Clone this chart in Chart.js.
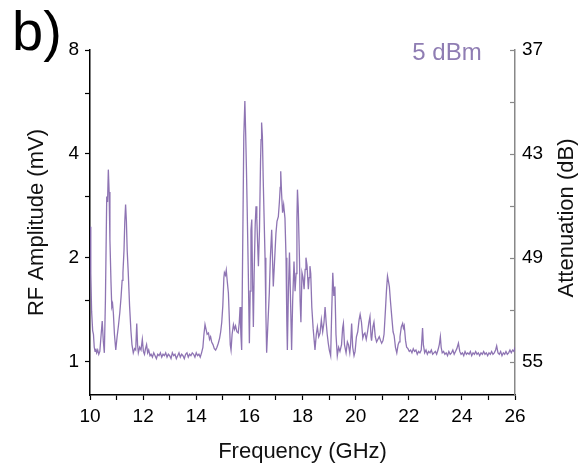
<!DOCTYPE html>
<html>
<head>
<meta charset="utf-8">
<script src="https://cdn.jsdelivr.net/npm/chart.js@4"></script>
<style>
  html, body { margin: 0; padding: 0; background: #fff; }
  canvas { display: block; }
</style>
</head>
<body>
<canvas id="rfChart" width="587" height="473"></canvas>
<script>
// Frequency (GHz) and RF amplitude (mV), ten points per line
const freqGHz = [
  10.00, 10.03, 10.06, 10.10, 10.13, 10.16, 10.19, 10.22, 10.25, 10.29,
  10.33, 10.37, 10.42, 10.46, 10.50, 10.54, 10.58, 10.63, 10.66, 10.69,
  10.72, 10.75, 10.79, 10.82, 10.85, 10.88, 10.92, 10.97, 11.02, 11.07,
  11.12, 11.17, 11.21, 11.24, 11.28, 11.31, 11.34, 11.37, 11.40, 11.44,
  11.49, 11.54, 11.58, 11.63, 11.68, 11.72, 11.76, 11.79, 11.82, 11.87,
  11.92, 11.97, 12.01, 12.05, 12.09, 12.13, 12.17, 12.21, 12.26, 12.30,
  12.35, 12.40, 12.45, 12.50, 12.55, 12.60, 12.65, 12.70, 12.75, 12.80,
  12.85, 12.90, 12.95, 13.00, 13.05, 13.10, 13.15, 13.20, 13.25, 13.30,
  13.35, 13.40, 13.45, 13.50, 13.55, 13.60, 13.65, 13.70, 13.75, 13.80,
  13.85, 13.90, 13.95, 14.00, 14.05, 14.10, 14.15, 14.20, 14.25, 14.29,
  14.33, 14.37, 14.41, 14.46, 14.50, 14.54, 14.58, 14.63, 14.68, 14.73,
  14.78, 14.83, 14.88, 14.92, 14.96, 15.00, 15.04, 15.06, 15.10, 15.13,
  15.17, 15.21, 15.25, 15.28, 15.31, 15.35, 15.40, 15.44, 15.48, 15.53,
  15.58, 15.62, 15.65, 15.68, 15.71, 15.75, 15.79, 15.83, 15.86, 15.89,
  15.92, 15.96, 16.00, 16.03, 16.06, 16.09, 16.12, 16.15, 16.18, 16.22,
  16.25, 16.28, 16.31, 16.34, 16.38, 16.42, 16.44, 16.46, 16.49, 16.52,
  16.56, 16.59, 16.62, 16.65, 16.70, 16.75, 16.79, 16.84, 16.87, 16.90,
  16.94, 17.00, 17.04, 17.09, 17.13, 17.16, 17.18, 17.21, 17.25, 17.29,
  17.34, 17.38, 17.41, 17.43, 17.47, 17.51, 17.55, 17.59, 17.63, 17.68,
  17.72, 17.76, 17.79, 17.81, 17.84, 17.89, 17.91, 17.94, 17.98, 18.02,
  18.06, 18.10, 18.13, 18.17, 18.22, 18.25, 18.28, 18.31, 18.35, 18.40,
  18.44, 18.47, 18.52, 18.56, 18.61, 18.66, 18.71, 18.76, 18.81, 18.85,
  18.89, 18.93, 18.97, 19.01, 19.06, 19.10, 19.14, 19.18, 19.22, 19.26,
  19.31, 19.36, 19.41, 19.47, 19.51, 19.54, 19.58, 19.64, 19.69, 19.73,
  19.78, 19.81, 19.85, 19.89, 19.94, 19.98, 20.03, 20.08, 20.13, 20.17,
  20.22, 20.27, 20.31, 20.35, 20.40, 20.45, 20.50, 20.54, 20.58, 20.60,
  20.65, 20.69, 20.74, 20.79, 20.84, 20.89, 20.94, 20.98, 21.03, 21.07,
  21.12, 21.16, 21.20, 21.23, 21.27, 21.31, 21.36, 21.41, 21.45, 21.50,
  21.55, 21.60, 21.64, 21.67, 21.72, 21.77, 21.80, 21.83, 21.88, 21.92,
  21.97, 22.02, 22.07, 22.12, 22.17, 22.22, 22.27, 22.32, 22.37, 22.42,
  22.47, 22.52, 22.55, 22.60, 22.65, 22.70, 22.75, 22.80, 22.85, 22.90,
  22.95, 23.00, 23.05, 23.10, 23.15, 23.19, 23.22, 23.26, 23.31, 23.36,
  23.41, 23.46, 23.51, 23.56, 23.61, 23.66, 23.71, 23.76, 23.81, 23.87,
  23.92, 23.97, 24.02, 24.07, 24.12, 24.17, 24.22, 24.27, 24.32, 24.37,
  24.42, 24.47, 24.52, 24.57, 24.62, 24.67, 24.72, 24.77, 24.82, 24.87,
  24.92, 24.97, 25.02, 25.07, 25.12, 25.17, 25.22, 25.27, 25.31, 25.36,
  25.41, 25.46, 25.51, 25.56, 25.61, 25.66, 25.71, 25.76, 25.81, 25.86,
  25.91, 25.96, 26.00
];
const ampMV = [
  2.46, 1.80, 1.40, 1.23, 1.20, 1.10, 1.07, 1.09, 1.06, 1.08,
  1.05, 1.07, 1.20, 1.31, 1.15, 1.06, 1.50, 3.01, 2.90, 3.60,
  3.10, 2.26, 1.70, 1.44, 1.47, 1.38, 1.20, 1.08, 1.18, 1.27,
  1.38, 1.54, 1.72, 1.81, 2.10, 2.55, 2.85, 2.55, 2.10, 1.81,
  1.45, 1.23, 1.12, 1.06, 1.09, 1.08, 1.29, 1.12, 1.06, 1.10,
  1.08, 1.16, 1.07, 1.05, 1.09, 1.12, 1.06, 1.08, 1.04, 1.05,
  1.03, 1.06, 1.04, 1.02, 1.05, 1.04, 1.06, 1.03, 1.05, 1.04,
  1.06, 1.03, 1.05, 1.04, 1.02, 1.06, 1.04, 1.05, 1.02, 1.04,
  1.06, 1.03, 1.05, 1.04, 1.02, 1.05, 1.06, 1.03, 1.05, 1.04,
  1.06, 1.05, 1.03, 1.06, 1.04, 1.05, 1.03, 1.06, 1.10, 1.20,
  1.28, 1.24, 1.20, 1.21, 1.16, 1.18, 1.14, 1.12, 1.09, 1.08,
  1.10, 1.13, 1.17, 1.22, 1.30, 1.45, 1.75, 1.81, 1.78, 1.84,
  1.70, 1.58, 1.30, 1.12, 1.08, 1.20, 1.28, 1.24, 1.27, 1.22,
  1.21, 1.30, 1.44, 1.20, 1.08, 2.20, 4.50, 5.69, 4.60, 3.60,
  2.70, 1.80, 1.13, 1.60, 2.40, 2.58, 1.70, 1.26, 1.80, 2.50,
  2.82, 2.60, 2.20, 1.89, 2.40, 3.80, 4.40, 4.93, 4.50, 3.40,
  2.50, 2.00, 1.40, 1.06, 1.30, 1.58, 2.00, 2.41, 2.00, 1.65,
  1.90, 2.35, 2.55, 2.63, 2.90, 3.20, 3.56, 3.10, 2.70, 2.85,
  2.60, 2.00, 1.30, 1.08, 1.60, 2.07, 1.50, 1.08, 1.50, 1.95,
  1.60, 1.80, 2.60, 3.15, 2.80, 1.91, 1.50, 1.30, 1.81, 1.75,
  1.62, 1.85, 2.00, 1.90, 1.62, 1.75, 1.89, 1.80, 1.44, 1.25,
  1.15, 1.08, 1.20, 1.26, 1.18, 1.21, 1.32, 1.22, 1.30, 1.44,
  1.30, 1.20, 1.13, 1.08, 1.04, 1.40, 1.81, 1.55, 1.65, 1.20,
  1.04, 1.10, 1.07, 1.12, 1.25, 1.29, 1.12, 1.06, 1.14, 1.12,
  1.06, 1.12, 1.29, 1.10, 1.04, 1.07, 1.18, 1.22, 1.32, 1.37,
  1.30, 1.17, 1.20, 1.21, 1.16, 1.22, 1.30, 1.35, 1.18, 1.15,
  1.26, 1.30, 1.18, 1.14, 1.16, 1.18, 1.15, 1.13, 1.15, 1.20,
  1.40, 1.60, 1.77, 1.72, 1.65, 1.50, 1.35, 1.22, 1.19, 1.10,
  1.06, 1.12, 1.14, 1.18, 1.26, 1.29, 1.25, 1.27, 1.15, 1.10,
  1.09, 1.07, 1.08, 1.06, 1.09, 1.07, 1.08, 1.05, 1.07, 1.06,
  1.08, 1.25, 1.12, 1.06, 1.08, 1.05, 1.07, 1.06, 1.08, 1.05,
  1.06, 1.07, 1.05, 1.08, 1.12, 1.18, 1.10, 1.06, 1.07, 1.05,
  1.06, 1.04, 1.07, 1.05, 1.06, 1.08, 1.05, 1.07, 1.09, 1.13,
  1.07, 1.05, 1.06, 1.04, 1.07, 1.05, 1.06, 1.05, 1.07, 1.04,
  1.06, 1.05, 1.07, 1.05, 1.06, 1.04, 1.06, 1.05, 1.07, 1.05,
  1.06, 1.04, 1.06, 1.05, 1.07, 1.05, 1.06, 1.08, 1.11, 1.06,
  1.05, 1.07, 1.04, 1.06, 1.05, 1.07, 1.05, 1.06, 1.08, 1.06,
  1.08, 1.07, 1.10
];

// axis ticks
const ampTicks = [1, 1.5, 2, 3, 4, 6, 8];
const ampLabels = [1, 2, 4, 8];
const attenTicks = [37, 40, 43, 46, 49, 52, 55];
const attenLabels = [37, 43, 49, 55];
const freqLabels = [10, 12, 14, 16, 18, 20, 22, 24, 26];

const FONT = "'Liberation Sans', Arial, sans-serif";
const LINE_COLOR = 'rgba(132, 104, 172, 0.92)';

const points = freqGHz.map((f, i) => ({ x: f, y: ampMV[i] }));

// extra drawing: panel letter, power label, inward right ticks, right title
const decorations = {
  id: 'decorations',
  afterDraw(chart) {
    const ctx = chart.ctx;
    const right = chart.scales.yAtt;
    const area = chart.chartArea;
    ctx.save();

    ctx.strokeStyle = '#888';
    ctx.lineWidth = 1.2;
    attenTicks.forEach(v => {
      const y = Math.round(right.getPixelForValue(v)) + 0.5;
      ctx.beginPath();
      ctx.moveTo(area.right - 5, y);
      ctx.lineTo(area.right, y);
      ctx.stroke();
    });

    ctx.fillStyle = '#000';
    ctx.font = '56px ' + FONT;
    ctx.textAlign = 'left';
    ctx.textBaseline = 'alphabetic';
    ctx.fillText('b)', 12, 50);

    ctx.fillStyle = '#8f7db3';
    ctx.font = '24px ' + FONT;
    ctx.textAlign = 'center';
    ctx.textBaseline = 'middle';
    ctx.fillText('5 dBm', 447, 53);

    ctx.fillStyle = '#111';
    ctx.font = '22px ' + FONT;
    ctx.translate(567, 218);
    ctx.rotate(-Math.PI / 2);
    ctx.fillText('Attenuation (dB)', 0, 0);

    ctx.restore();
  }
};

new Chart(document.getElementById('rfChart'), {
  type: 'line',
  data: {
    datasets: [{
      data: points,
      borderColor: LINE_COLOR,
      borderWidth: 1.3,
      pointRadius: 0,
      tension: 0,
      fill: false,
      yAxisID: 'y'
    }]
  },
  options: {
    responsive: false,
    animation: false,
    layout: { padding: { top: 50, left: 0, right: 0, bottom: 0 } },
    plugins: {
      legend: { display: false },
      tooltip: { enabled: false }
    },
    scales: {
      x: {
        type: 'linear',
        min: 10,
        max: 26,
        afterFit: s => { s.height = 78; },
        afterBuildTicks: s => {
          const t = [];
          for (let v = 10; v <= 26; v++) t.push({ value: v });
          s.ticks = t;
        },
        border: { color: '#000', width: 1.5 },
        grid: { drawOnChartArea: false, tickLength: 5, color: '#000', tickWidth: 1.2 },
        ticks: {
          padding: 5,
          maxRotation: 0,
          autoSkip: false,
          color: '#000',
          font: { family: FONT, size: 19 },
          callback: v => freqLabels.includes(v) ? String(v) : ''
        },
        title: {
          display: true,
          text: 'Frequency (GHz)',
          color: '#111',
          font: { family: FONT, size: 22 },
          padding: { top: 0, bottom: 8 }
        }
      },
      y: {
        type: 'logarithmic',
        position: 'left',
        min: 0.8,
        max: 8,
        afterFit: s => { s.width = 90; },
        afterBuildTicks: s => { s.ticks = ampTicks.map(v => ({ value: v })); },
        border: { color: '#000', width: 1.5 },
        grid: { drawOnChartArea: false, tickLength: 5, color: '#000', tickWidth: 1.2 },
        ticks: {
          padding: 6,
          autoSkip: false,
          color: '#000',
          font: { family: FONT, size: 19 },
          callback: v => ampLabels.includes(v) ? String(v) : ''
        },
        title: {
          display: true,
          text: 'RF Amplitude (mV)',
          color: '#111',
          font: { family: FONT, size: 22 },
          padding: { top: 24, bottom: 0 }
        }
      },
      yAtt: {
        type: 'linear',
        position: 'right',
        reverse: true,
        min: 37,
        max: 56.93,
        afterFit: s => { s.width = 72; },
        afterBuildTicks: s => { s.ticks = attenTicks.map(v => ({ value: v })); },
        border: { color: '#888', width: 1.5 },
        grid: { drawOnChartArea: false, drawTicks: false },
        ticks: {
          padding: 7,
          autoSkip: false,
          color: '#000',
          font: { family: FONT, size: 19 },
          callback: v => attenLabels.includes(v) ? String(v) : ''
        }
      }
    }
  },
  plugins: [decorations]
});
</script>
</body>
</html>
